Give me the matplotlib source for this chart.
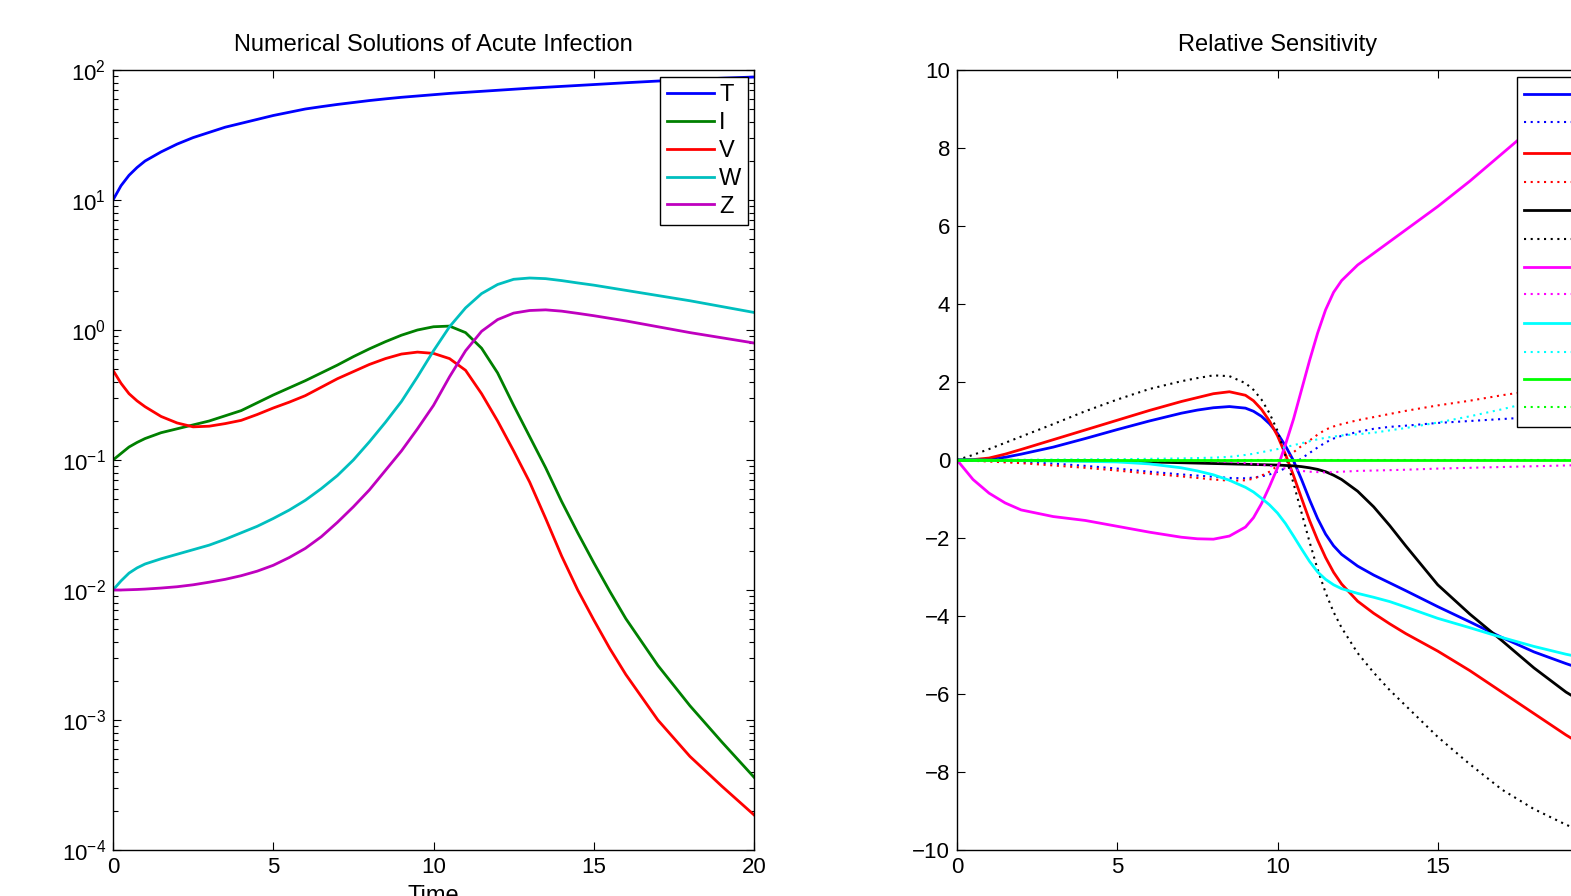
import numpy as np
import matplotlib
matplotlib.use('Agg')
from matplotlib import pyplot as plt
from matplotlib.ticker import LogLocator, NullFormatter

plt.rcParams['font.family'] = ['Liberation Sans', 'DejaVu Sans']
plt.rcParams['mathtext.fontset'] = 'custom'
plt.rcParams['mathtext.rm'] = 'Liberation Sans'

# left panel: state variables (log10 of the values)
t_left = [0, 0.25, 0.5, 0.75, 1, 1.5, 2, 2.5, 3, 3.5, 4, 4.5, 5, 5.5, 6, 6.5, 7, 7.5, 8, 8.5,
          9, 9.5, 10, 10.5, 11, 11.5, 12, 12.5, 13, 13.5, 14, 14.5, 15, 15.5, 16, 17, 18, 19, 20]
T_log = [1.0, 1.11, 1.19, 1.25, 1.30, 1.37, 1.43, 1.48, 1.52, 1.56, 1.59, 1.62, 1.65, 1.675, 1.70, 1.718, 1.735, 1.75, 1.765, 1.778,
         1.79, 1.80, 1.81, 1.82, 1.828, 1.836, 1.844, 1.852, 1.86, 1.867, 1.874, 1.881, 1.888, 1.895, 1.902, 1.915, 1.926, 1.937, 1.946]
I_log = [-1.0, -0.95, -0.9, -0.865, -0.835, -0.79, -0.76, -0.73, -0.70, -0.66, -0.62, -0.56, -0.5, -0.445, -0.39, -0.33, -0.27, -0.205, -0.145, -0.09,
         -0.04, 0.0, 0.025, 0.03, -0.02, -0.14, -0.33, -0.58, -0.82, -1.06, -1.32, -1.56, -1.79, -2.01, -2.22, -2.58, -2.89, -3.17, -3.44]
V_log = [-0.31, -0.41, -0.49, -0.545, -0.59, -0.665, -0.715, -0.745, -0.74, -0.72, -0.695, -0.65, -0.6, -0.555, -0.505, -0.44, -0.375, -0.32, -0.265, -0.22,
         -0.185, -0.17, -0.18, -0.22, -0.31, -0.49, -0.7, -0.93, -1.17, -1.45, -1.74, -2.0, -2.23, -2.45, -2.65, -3.0, -3.28, -3.51, -3.73]
W_log = [-2.0, -1.93, -1.87, -1.83, -1.8, -1.76, -1.725, -1.69, -1.655, -1.61, -1.56, -1.51, -1.45, -1.385, -1.31, -1.22, -1.12, -1.0, -0.86, -0.71,
         -0.55, -0.36, -0.16, 0.025, 0.17, 0.28, 0.35, 0.39, 0.40, 0.395, 0.38, 0.362, 0.345, 0.325, 0.305, 0.265, 0.225, 0.18, 0.135]
Z_log = [-2.0, -2.0, -1.998, -1.996, -1.993, -1.985, -1.975, -1.96, -1.94, -1.918, -1.89, -1.855, -1.81, -1.75, -1.68, -1.59, -1.48, -1.36, -1.23, -1.08,
         -0.93, -0.76, -0.58, -0.36, -0.16, -0.01, 0.08, 0.13, 0.15, 0.155, 0.145, 0.128, 0.11, 0.09, 0.07, 0.025, -0.02, -0.06, -0.1]
state_names = ['T', 'I', 'V', 'W', 'Z']
state_colors = ['#0000ff', '#008000', '#ff0000', '#00bfbf', '#bf00bf']

# right panel: relative sensitivities
t_right = [0, 0.5, 1, 1.5, 2, 3, 4, 5, 6, 7, 7.5, 8, 8.5, 9, 9.25, 9.5, 9.75, 10, 10.25, 10.5,
           10.75, 11, 11.25, 11.5, 11.75, 12, 12.5, 13, 13.5, 14, 15, 16, 17, 18, 19, 20]
blue_solid = [0, 0.0, 0.02, 0.07, 0.15, 0.33, 0.55, 0.78, 1.0, 1.2, 1.28, 1.34, 1.37, 1.33, 1.25, 1.12, 0.93, 0.68, 0.36, -0.02,
              -0.5, -1.02, -1.5, -1.9, -2.2, -2.42, -2.72, -2.95, -3.15, -3.35, -3.76, -4.15, -4.55, -4.92, -5.22, -5.5]
blue_dot = [0, -0.01, -0.02, -0.035, -0.05, -0.09, -0.15, -0.22, -0.3, -0.37, -0.4, -0.43, -0.46, -0.47, -0.45, -0.42, -0.37, -0.3, -0.21, -0.1,
            0.04, 0.18, 0.32, 0.45, 0.55, 0.62, 0.72, 0.8, 0.85, 0.88, 0.95, 1.0, 1.05, 1.1, 1.15, 1.2]
red_solid = [0, 0.01, 0.05, 0.15, 0.27, 0.52, 0.77, 1.02, 1.27, 1.5, 1.6, 1.7, 1.75, 1.66, 1.52, 1.3, 1.0, 0.62, 0.14, -0.4,
             -0.98, -1.55, -2.05, -2.5, -2.88, -3.18, -3.62, -3.93, -4.2, -4.45, -4.9, -5.4, -5.95, -6.5, -7.05, -7.55]
red_dot = [0, -0.02, -0.04, -0.06, -0.08, -0.14, -0.2, -0.27, -0.35, -0.42, -0.46, -0.5, -0.53, -0.52, -0.48, -0.4, -0.3, -0.15, 0.02, 0.2,
           0.36, 0.5, 0.65, 0.78, 0.86, 0.92, 1.02, 1.1, 1.18, 1.26, 1.4, 1.52, 1.66, 1.78, 1.9, 2.0]
black_solid = [0, 0, 0, -0.005, -0.01, -0.015, -0.02, -0.03, -0.05, -0.07, -0.08, -0.09, -0.1, -0.11, -0.115, -0.12, -0.125, -0.13, -0.14, -0.15,
               -0.17, -0.2, -0.24, -0.3, -0.39, -0.5, -0.8, -1.2, -1.68, -2.2, -3.2, -3.95, -4.63, -5.33, -5.95, -6.45]
black_dot = [0, 0.13, 0.28, 0.44, 0.6, 0.92, 1.25, 1.55, 1.82, 2.02, 2.1, 2.17, 2.15, 1.97, 1.8, 1.55, 1.2, 0.75, 0.1, -0.6,
             -1.35, -2.1, -2.8, -3.4, -3.9, -4.3, -4.95, -5.45, -5.9, -6.3, -7.1, -7.8, -8.45, -8.95, -9.35, -9.7]
magenta_solid = [0, -0.5, -0.85, -1.1, -1.28, -1.45, -1.55, -1.7, -1.85, -1.98, -2.02, -2.03, -1.95, -1.72, -1.48, -1.12, -0.68, -0.2, 0.4, 1.05,
                 1.8, 2.55, 3.25, 3.85, 4.3, 4.6, 5.0, 5.3, 5.6, 5.9, 6.5, 7.15, 7.85, 8.55, 9.25, 9.9]
magenta_dot = [0, 0, 0, 0, 0, -0.005, -0.01, -0.01, -0.015, -0.02, -0.025, -0.03, -0.05, -0.08, -0.1, -0.12, -0.15, -0.18, -0.22, -0.25,
               -0.28, -0.3, -0.31, -0.32, -0.31, -0.3, -0.28, -0.27, -0.26, -0.25, -0.22, -0.2, -0.18, -0.16, -0.14, -0.12]
cyan_solid = [0, 0, -0.005, -0.01, -0.015, -0.025, -0.035, -0.05, -0.1, -0.2, -0.28, -0.38, -0.52, -0.7, -0.82, -0.98, -1.15, -1.36, -1.63, -1.95,
              -2.28, -2.6, -2.87, -3.06, -3.2, -3.3, -3.42, -3.52, -3.63, -3.77, -4.06, -4.3, -4.55, -4.78, -4.98, -5.15]
cyan_dot = [0, 0, 0, 0.005, 0.005, 0.01, 0.015, 0.02, 0.03, 0.04, 0.05, 0.06, 0.08, 0.13, 0.16, 0.2, 0.24, 0.28, 0.33, 0.38,
            0.43, 0.48, 0.53, 0.57, 0.6, 0.63, 0.66, 0.7, 0.76, 0.82, 0.96, 1.12, 1.3, 1.5, 1.65, 1.8]
green_solid = [0] * len(t_right)
green_dot = [0] * len(t_right)
sens_labels = [r'$\lambda$', r'$d$', r'$\beta$', r'$\delta$', r'$p$', r'$c$',
               r'$k$', r'$\mu$', r'$a$', r'$b$', r'$e$', r'$f$']


def matlab_box(ax):
    for s in ax.spines.values():
        s.set_linewidth(1.0)
    ax.tick_params(which='both', direction='in', top=True, right=True,
                   labelsize=16, width=0.8, pad=5)
    ax.tick_params(which='major', length=6)
    ax.tick_params(which='minor', length=3.5)


def add_legend(ax, x_px, spacing):
    leg = ax.legend(loc='upper left', bbox_to_anchor=(x_px / 1571, 1 - 77 / 896),
                    bbox_transform=ax.figure.transFigure, borderaxespad=0,
                    fancybox=False, framealpha=1, edgecolor='black', fontsize=17,
                    handlelength=2.0, handletextpad=0.2, labelspacing=spacing,
                    borderpad=0.3)
    leg.get_frame().set_linewidth(1.0)


def plot_states(ax):
    series = [T_log, I_log, V_log, W_log, Z_log]
    for name, vals, col in zip(state_names, series, state_colors):
        ax.semilogy(t_left, 10 ** np.array(vals), color=col, lw=2, label=name)
    ax.set_xlim(0, 20)
    ax.set_ylim(1e-4, 1e2)
    ax.set_xticks([0, 5, 10, 15, 20])
    ax.yaxis.set_minor_locator(LogLocator(base=10, subs=np.arange(2, 10)))
    ax.yaxis.set_minor_formatter(NullFormatter())
    ax.set_title('Numerical Solutions of Acute Infection', fontsize=17, pad=14)
    ax.set_xlabel('Time', fontsize=17, labelpad=5)
    matlab_box(ax)
    add_legend(ax, 660, 0.25)


def plot_sensitivity(ax):
    dot = (0, (1, 2.2))
    series = [(blue_solid, 'b', '-'), (blue_dot, 'b', dot),
              (red_solid, 'r', '-'), (red_dot, 'r', dot),
              (black_solid, 'k', '-'), (black_dot, 'k', dot),
              (magenta_solid, '#ff00ff', '-'), (magenta_dot, '#ff00ff', dot),
              (cyan_solid, '#00ffff', '-'), (cyan_dot, '#00ffff', dot),
              (green_solid, '#00ff00', '-'), (green_dot, '#00ff00', dot)]
    for (vals, col, ls), lab in zip(series, sens_labels):
        lw = 2 if ls == '-' else 1.5
        ax.plot(t_right, vals, color=col, ls=ls, lw=lw, label=lab)
    ax.set_xlim(0, 20)
    ax.set_ylim(-10, 10)
    ax.set_xticks([0, 5, 10, 15, 20])
    ax.set_yticks(range(-10, 11, 2))
    ax.set_title('Relative Sensitivity', fontsize=17, pad=14)
    matlab_box(ax)
    add_legend(ax, 1517, 0.22)


def main():
    fig = plt.figure(figsize=(15.71, 8.96), dpi=100)
    ax1 = fig.add_axes([113 / 1571, 46 / 896, 641 / 1571, 780 / 896])
    ax2 = fig.add_axes([957 / 1571, 46 / 896, 641 / 1571, 780 / 896])
    plot_states(ax1)
    plot_sensitivity(ax2)
    fig.savefig('out.png', dpi=100)


if __name__ == "__main__":
    main()
